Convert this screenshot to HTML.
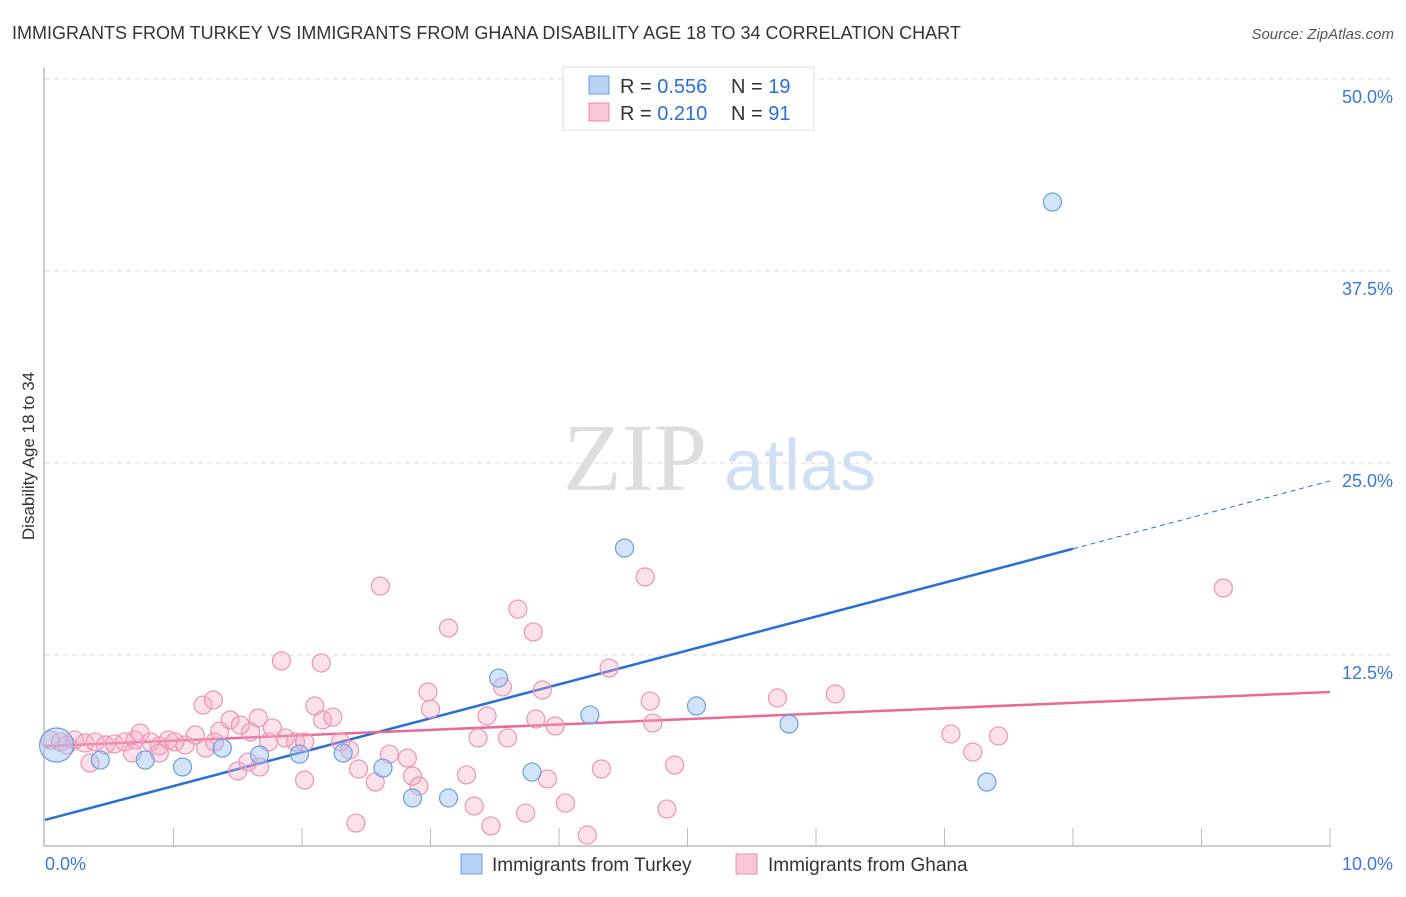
<!DOCTYPE html>
<html><head><meta charset="utf-8"><style>
body{margin:0;background:#fff;font-family:"Liberation Sans",sans-serif;}
svg text{font-family:"Liberation Sans",sans-serif;}
</style></head><body>
<svg id="chart" width="1406" height="892">
<text x="12" y="39" font-size="18" fill="#333">IMMIGRANTS FROM TURKEY VS IMMIGRANTS FROM GHANA DISABILITY AGE 18 TO 34 CORRELATION CHART</text>
<text x="1394" y="39" font-size="15" fill="#555" font-style="italic" text-anchor="end">Source: ZipAtlas.com</text>
<text x="34" y="456" font-size="17" fill="#333" text-anchor="middle" transform="rotate(-90 34 456)">Disability Age 18 to 34</text>
<g>
<text x="635" y="490" font-size="96" fill="#ddd" text-anchor="middle" font-family="Liberation Serif" style="font-family:'Liberation Serif',serif">ZIP</text>
<text x="800" y="490" font-size="72" fill="#cfe0f5" text-anchor="middle">atlas</text>
</g>
<g id="grid"></g>
<g id="axes"></g>
<g id="lines"></g>
<g id="points"></g>
<g>
<rect x="563" y="67" width="251" height="63" fill="#fff" stroke="#ddd"/>
<rect x="589" y="76" width="20" height="18" fill="#b8d2f3" stroke="#6a9fe0"/>
<rect x="589" y="103" width="20" height="18" fill="#f8c6d6" stroke="#eb8fb0"/>
<text x="620" y="93" font-size="20" fill="#333">R = <tspan fill="#2a6fd6">0.556</tspan></text>
<text x="731" y="93" font-size="20" fill="#333">N = <tspan fill="#2a6fd6">19</tspan></text>
<text x="620" y="120" font-size="20" fill="#333">R = <tspan fill="#2a6fd6"> 0.210</tspan></text>
<text x="731" y="120" font-size="20" fill="#333">N = <tspan fill="#2a6fd6">91</tspan></text>
</g>
<g>
<rect x="461" y="854" width="21" height="20" fill="#b8d2f3" stroke="#6a9fe0"/>
<text x="492" y="871" font-size="19" fill="#333">Immigrants from Turkey</text>
<rect x="736" y="854" width="21" height="20" fill="#f8c6d6" stroke="#eb8fb0"/>
<text x="768" y="871" font-size="19" fill="#333">Immigrants from Ghana</text>
</g>
</svg>
<script>
const yTicks=[12.5,25.0,37.5,50.0];
const xTickLabels=["0.0%","10.0%"];
const turkeyX=[0.09,0.43,0.78,1.07,1.38,1.67,1.98,2.32,2.63,2.86,3.14,3.53,3.79,4.24,4.51,5.07,5.79,7.33,7.84];
const turkeyY=[6.64,5.66,5.66,5.21,6.44,5.99,6.05,6.12,5.14,3.19,3.19,11.0,4.88,8.59,19.46,9.18,8.01,4.23,41.99];
const turkeyR=[17,9,9,9,9,9,9,9,9,9,9,9,9,9,9,9,9,9,9];
const ghanaX=[0.04,0.12,0.17,0.23,0.31,0.39,0.47,0.54,0.62,0.70,0.74,0.82,0.89,0.96,1.01,1.09,1.17,1.25,1.32,1.36,1.44,1.52,1.60,1.66,1.74,1.77,1.87,1.95,2.02,2.10,2.16,2.24,2.30,2.37,0.35,0.68,0.89,1.23,1.31,1.50,1.58,1.67,1.84,2.02,2.15,2.42,2.44,2.57,2.61,2.68,2.82,2.86,2.91,2.98,3.00,3.14,3.28,3.34,3.37,3.44,3.47,3.56,3.60,3.68,3.74,3.80,3.82,3.87,3.91,3.97,4.05,4.22,4.33,4.39,4.67,4.71,4.73,4.84,4.90,5.70,6.15,7.05,7.22,7.42,9.17];
const ghanaY=[6.97,6.84,6.64,6.97,6.77,6.84,6.64,6.71,6.84,6.97,7.42,6.84,6.58,6.97,6.84,6.64,7.29,6.44,6.84,7.55,8.27,7.94,7.49,8.40,6.84,7.75,7.10,6.84,6.84,9.18,8.27,8.46,6.84,6.31,5.47,6.12,6.12,9.24,9.57,4.95,5.53,5.21,12.11,4.36,11.98,1.56,5.08,4.23,16.99,6.05,5.79,4.62,3.97,10.09,8.98,14.26,4.69,2.67,7.10,8.53,1.37,10.42,7.10,15.49,2.21,14.00,8.33,10.22,4.43,7.88,2.86,0.78,5.08,11.65,17.58,9.50,8.07,2.47,5.34,9.70,9.96,7.36,6.18,7.23,16.86];
const turkeyTrend=[1.76,23.83];
const ghanaTrend=[6.57,10.09];
const NS="http://www.w3.org/2000/svg";
const X=v=>45+v*128.5, Y=v=>847-v*15.36;
function mk(tag,attrs,parent){const e=document.createElementNS(NS,tag);for(const k in attrs)e.setAttribute(k,attrs[k]);parent.appendChild(e);return e;}
const grid=document.getElementById('grid'),axes=document.getElementById('axes'),lines=document.getElementById('lines'),pts=document.getElementById('points');
mk('line',{x1:45,x2:1393,y1:Y(50)-0,y2:Y(50),stroke:'#ddd','stroke-dasharray':'5,4'},grid);
yTicks.forEach(t=>{
 const l=mk('line',{x1:45,x2:1393,y1:Y(t),y2:Y(t),stroke:'#ddd','stroke-dasharray':'5,4'},grid);
 
 
 const tx=mk('text',{x:1393,y:Y(t)+24,'font-size':18,fill:'#3a78d8','text-anchor':'end'},axes);
 tx.textContent=t.toFixed(1)+'%';
 
 
});
mk('line',{x1:44,x2:44,y1:68,y2:846,stroke:'#bbb','stroke-width':1.5},axes);
mk('line',{x1:44,x2:1331,y1:846,y2:846,stroke:'#bbb','stroke-width':1.5},axes);
for(let i=1;i<=10;i++){const t=mk('line',{x1:X(i),x2:X(i),y1:828,y2:846,stroke:'#bbb'},axes);}
const xl0=mk('text',{x:45,y:870,'font-size':18,fill:'#3a78d8'},axes);xl0.textContent=xTickLabels[0];


const xl1=mk('text',{x:1393,y:870,'font-size':18,fill:'#3a78d8','text-anchor':'end'},axes);xl1.textContent=xTickLabels[1];


ghanaX.forEach((x,i)=>{const c=mk('circle',{cx:X(x),cy:Y(ghanaY[i]),r:9,fill:'rgba(244,170,195,0.35)',stroke:'#ec94b4','stroke-width':1.2},pts);

});
turkeyX.forEach((x,i)=>{const c=mk('circle',{cx:X(x),cy:Y(turkeyY[i]),r:turkeyR[i],fill:'rgba(160,196,240,0.45)',stroke:'#6a9fe0','stroke-width':1.2},pts);

});
const xs=8.0;
const tb=mk('line',{x1:X(0),y1:Y(turkeyTrend[0]),x2:X(xs),y2:Y(turkeyTrend[0]+(turkeyTrend[1]-turkeyTrend[0])*xs/10),stroke:'#2a6fd6','stroke-width':2.5},lines);


const td=mk('line',{x1:X(xs),y1:Y(turkeyTrend[0]+(turkeyTrend[1]-turkeyTrend[0])*xs/10),x2:X(10),y2:Y(turkeyTrend[1]),stroke:'#2a6fd6','stroke-width':1,'stroke-dasharray':'5,4'},lines);


const gl=mk('line',{x1:X(0),y1:Y(ghanaTrend[0]),x2:X(10),y2:Y(ghanaTrend[1]),stroke:'#e8699a','stroke-width':2.5},lines);


</script>
</body></html>
